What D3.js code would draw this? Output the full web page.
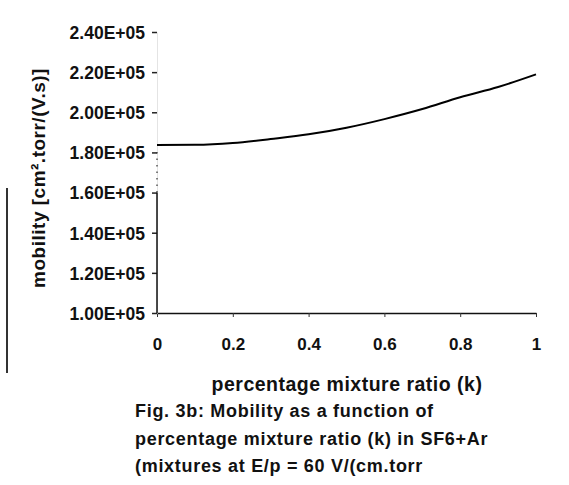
<!DOCTYPE html>
<html>
<head>
<meta charset="utf-8">
<script src="https://cdn.jsdelivr.net/npm/d3@7"></script>
<style>
  html, body { margin: 0; padding: 0; background: #fff; }
  svg { display: block; font-family: "Liberation Sans", Arial, sans-serif; }
</style>
</head>
<body>
<div id="chart"></div>
<script>
// mixture ratio k and mobility values
const ratio = [0, 0.1, 0.2, 0.3, 0.4, 0.5, 0.6, 0.7, 0.8, 0.9, 1.0];
const mobility = [183700, 183800, 184700, 186700, 189000, 192300, 196600, 201600, 207500, 212600, 218900];

const xTicks = [0, 0.2, 0.4, 0.6, 0.8, 1];
const yTicks = [100000, 120000, 140000, 160000, 180000, 200000, 220000, 240000];

const xTitle = "percentage mixture ratio (k)";
const yTitle = "mobility [cm\u00B2.torr/(V.s)]";
const caption = [
    "Fig. 3b: Mobility as a function of",
    "percentage mixture ratio (k) in SF6+Ar",
    "(mixtures at E/p = 60 V/(cm.torr"
];

const width = 569, height = 485;

const svg = d3.select("#chart").append("svg")
    .attr("width", width)
    .attr("height", height);

const x = d3.scaleLinear().domain([0, 1]).range([157, 536]);
const y = d3.scaleLinear().domain([100000, 240000]).range([313, 32]);

// "1.00E+05" style labels
function sci(v) {
    const e = Math.floor(Math.log10(v));
    const m = v / Math.pow(10, e);
    return m.toFixed(2) + "E+" + String(e).padStart(2, "0");
}

// x axis
const xAxis = svg.append("g")
    .attr("transform", `translate(0,${y(100000)})`)
    .call(d3.axisBottom(x).tickValues(xTicks).tickFormat(d3.format("~g")).tickSize(4).tickSizeOuter(0));
xAxis.select(".domain").attr("stroke", "#111").attr("stroke-width", 1.5);
xAxis.selectAll(".tick line").attr("stroke", "#333");
xAxis.selectAll(".tick text")
    .attr("y", 37).attr("dy", null)
    .attr("fill", "#111")
    .style("font-size", "17px")
    .style("font-weight", "bold");

// y axis (scanned original: line mostly faded in the upper part)
const yAxis = svg.append("g")
    .attr("transform", `translate(${x(0)},0)`)
    .call(d3.axisLeft(y).tickValues(yTicks).tickFormat(sci).tickSize(5).tickSizeOuter(0));
yAxis.select(".domain").attr("stroke", "#e4e4e4").attr("stroke-width", 1);
yAxis.selectAll(".tick line").attr("stroke", "#222").attr("stroke-width", 1.5);
yAxis.selectAll(".tick text")
    .attr("x", -12).attr("dy", "0.36em")
    .attr("fill", "#111")
    .style("font-size", "17.5px")
    .style("font-weight", "bold");

svg.append("line")
    .attr("x1", x(0)).attr("x2", x(0))
    .attr("y1", y(100000)).attr("y2", y(160000))
    .attr("stroke", "#111").attr("stroke-width", 1.5);
svg.append("line")
    .attr("x1", x(0)).attr("x2", x(0))
    .attr("y1", y(160000)).attr("y2", y(182000))
    .attr("stroke", "#333").attr("stroke-width", 1.2)
    .attr("stroke-dasharray", "1.5,5");

// curve
const line = d3.line()
    .x((d, i) => x(ratio[i]))
    .y(d => y(d))
    .curve(d3.curveMonotoneX);

svg.append("path")
    .datum(mobility)
    .attr("fill", "none")
    .attr("stroke", "#000")
    .attr("stroke-width", 2)
    .attr("d", line);

// axis titles
svg.append("text")
    .attr("x", 347).attr("y", 391)
    .attr("text-anchor", "middle")
    .attr("fill", "#111")
    .style("font-size", "19.5px")
    .style("letter-spacing", "0.5px")
    .style("font-weight", "bold")
    .text(xTitle);

svg.append("text")
    .attr("transform", "translate(45,178) rotate(-90)")
    .attr("text-anchor", "middle")
    .attr("fill", "#111")
    .style("font-size", "19px")
    .style("letter-spacing", "0.5px")
    .style("font-weight", "bold")
    .text(yTitle);

// stray vertical rule at far left
svg.append("line")
    .attr("x1", 7).attr("x2", 7)
    .attr("y1", 188).attr("y2", 373)
    .attr("stroke", "#333").attr("stroke-width", 2);

// caption
svg.selectAll("text.caption")
    .data(caption)
    .join("text")
    .attr("class", "caption")
    .attr("x", 135)
    .attr("y", (d, i) => 417 + i * 27.5)
    .attr("fill", "#111")
    .style("font-size", "18px")
    .style("letter-spacing", "0.7px")
    .style("font-weight", "bold")
    .text(d => d);
</script>
</body>
</html>
